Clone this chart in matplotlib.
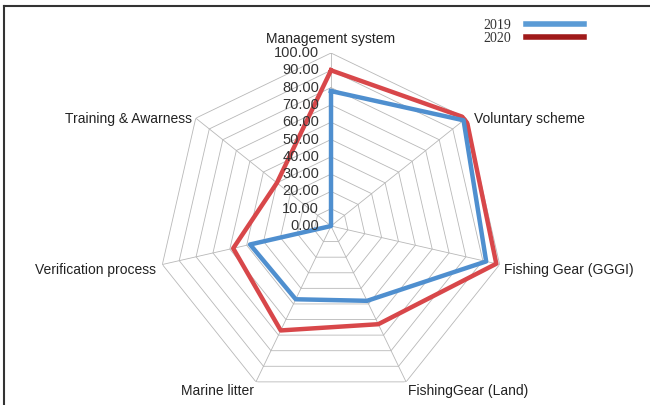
import numpy as np
import matplotlib
matplotlib.use("Agg")
import matplotlib.pyplot as plt
from matplotlib.lines import Line2D

categories = ["Management system", "Voluntary scheme", "Fishing Gear (GGGI)",
              "FishingGear (Land)", "Marine litter", "Verification process",
              "Training & Awarness"]
values_2019 = [78, 98, 92, 48, 47, 48, 0]
values_2020 = [90, 100, 98, 63, 67, 58, 40]
levels = [0, 10, 20, 30, 40, 50, 60, 70, 80, 90, 100]
level_labels = [f"{v:.2f}" for v in levels]

blue = "#4f8fcf"
red = "#d8474a"
grid_col = "#b8b8b8"

plt.rcParams['font.family'] = ['Liberation Sans', 'DejaVu Sans']

fig = plt.figure(figsize=(6.5, 4.05), dpi=100)
ax = fig.add_axes([0.2431, 0.0148, 0.5323, 0.8543], projection="polar")
ax.set_theta_offset(np.pi / 2)
ax.set_theta_direction(-1)

n = len(categories)
angles = np.linspace(0, 2 * np.pi, n, endpoint=False)
closed = np.append(angles, angles[0])

# polygon grid + spokes
for lv in levels[1:]:
    ax.plot(closed, [lv] * (n + 1), color=grid_col, lw=0.6, zorder=1)
for a in angles:
    ax.plot([a, a], [0, 100], color=grid_col, lw=0.6, zorder=1)

ax.plot(closed, values_2019 + values_2019[:1], color=blue, lw=3.2, zorder=3)
ax.plot(closed, values_2020 + values_2020[:1], color=red, lw=3.2, zorder=2)

ax.set_ylim(0, 100)
ax.grid(False)
ax.spines['polar'].set_visible(False)
ax.set_xticks([])
ax.set_yticks([])
ax.patch.set_alpha(0)

# radial value labels along the top spoke
for lv, lab in zip(levels, level_labels):
    ax.annotate(lab, (0, lv), xytext=(-12, 0), textcoords="offset pixels",
                ha="right", va="center", fontsize=10.5, color="#333333",
                zorder=4)

# category labels: (radius, ha, va, pixel offset)
label_pos = [
    (100, "center", "bottom", (0, 7)),
    (100, "left", "center", (8, -1)),
    (100, "left", "center", (4, -5)),
    (100, "left", "top", (2, -2)),
    (100, "right", "top", (-2, -2)),
    (100, "right", "center", (-6, -5)),
    (100, "right", "center", (-4, -1)),
]
for cat, a, (r, ha, va, off) in zip(categories, angles, label_pos):
    ax.annotate(cat, (a, r), xytext=off, textcoords="offset pixels",
                ha=ha, va=va, fontsize=10, color="#222222")

handles = [Line2D([], [], color="#5b9bd5", lw=4),
           Line2D([], [], color="#a01a1a", lw=4)]
leg = fig.legend(handles, ["2019", "2020"], loc="upper left",
                 bbox_to_anchor=(0.725, 0.985), frameon=False,
                 markerfirst=False, handlelength=4.2, handletextpad=1.0,
                 labelspacing=0.05, prop={"family": "Liberation Serif", "size": 10})
for t in leg.get_texts():
    t.set_color("#333333")

# frame (top and left edges visible)
fig.add_artist(Line2D([0.006, 1], [0.985, 0.985], color="#333333", lw=1.5))
fig.add_artist(Line2D([0.006, 0.006], [0, 0.985], color="#333333", lw=1.5))

fig.savefig("out.png", dpi=100)
